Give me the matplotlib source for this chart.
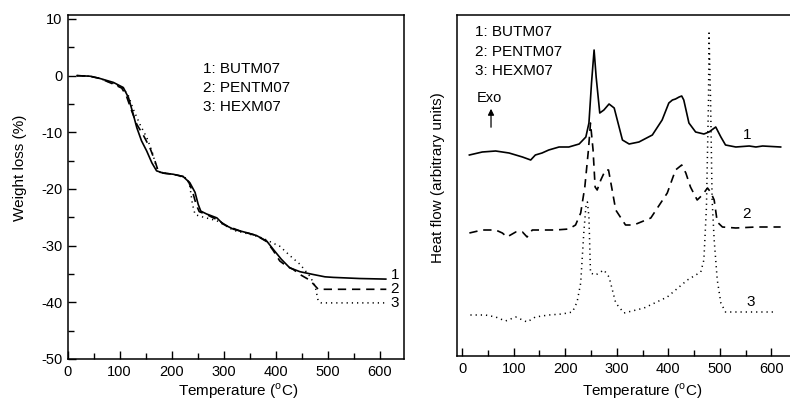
import matplotlib
matplotlib.use("Agg")
import matplotlib.pyplot as plt
from matplotlib.ticker import MultipleLocator

plt.rcParams['font.family'] = ['Liberation Sans', 'DejaVu Sans']
plt.rcParams['axes.unicode_minus'] = False

# ---------------- TGA data (weight loss, %) ----------------
tga_x1 = [18, 43, 62, 88, 107, 117, 126, 133, 142, 152, 162, 171, 184, 203, 222, 235, 245, 251, 256, 267,
          287, 299, 319, 344, 363, 383, 395, 411, 427, 447, 473, 495, 511, 562, 612]
tga_y1 = [0, -0.1, -0.5, -1.2, -2.1, -3.9, -6.8, -9.2, -11.5, -13.3, -15.4, -16.8, -17.2, -17.4, -17.8,
          -18.9, -20.6, -22.7, -23.9, -24.4, -25.1, -26.2, -27.1, -27.7, -28.2, -29.2, -30.6, -32.4, -33.9,
          -34.6, -35.1, -35.5, -35.6, -35.8, -35.9]
tga_x2 = [18, 43, 62, 88, 104, 113, 123, 133, 146, 158, 168, 174, 184, 203, 222, 232, 240, 247, 253, 267,
          287, 306, 331, 363, 383, 395, 408, 421, 434, 447, 466, 476, 482, 613]
tga_y2 = [0, -0.1, -0.5, -1.5, -2.2, -3.6, -6.2, -8.6, -10.6, -12.7, -15.1, -16.8, -17.2, -17.4, -17.8,
          -18.6, -20.4, -22.7, -24.0, -24.5, -25.4, -26.5, -27.4, -28.2, -29.3, -30.8, -32.7, -33.6, -34.2,
          -35.1, -36.1, -37.1, -37.7, -37.7]
tga_x3 = [18, 43, 62, 88, 107, 117, 126, 139, 152, 162, 171, 178, 203, 229, 235, 240, 245, 254, 287, 319,
          351, 376, 396, 408, 428, 447, 466, 476, 482, 488, 613]
tga_y3 = [0, -0.1, -0.5, -1.4, -2.2, -3.6, -5.9, -8.6, -10.9, -13.3, -16.2, -17.1, -17.4, -18.1, -19.5,
          -22.7, -24.5, -24.8, -25.6, -27.3, -28.0, -28.7, -29.6, -30.1, -31.8, -33.3, -35.4, -37.1, -39.8,
          -40.1, -40.1]

# ---------------- DTA data (heat flow, arbitrary units) ----------------
dta_x1 = [14, 39, 65, 91, 117, 133, 142, 155, 168, 188, 207, 227, 240, 246, 251, 256, 260, 267, 275, 285,
          295, 301, 311, 324, 343, 369, 388, 401, 408, 414, 421, 426, 430, 440, 453, 469, 479, 492, 502,
          511, 531, 557, 570, 583, 618]
dta_y1 = [201, 204, 205, 203, 199, 196, 201, 203, 206, 209, 209, 212, 219, 233, 273, 306, 279, 243, 246,
          252, 248, 236, 216, 212, 214, 221, 236, 253, 256, 257, 259, 260, 256, 233, 224, 222, 224, 229,
          219, 211, 209, 210, 209, 210, 209]
dta_x2 = [14, 39, 65, 78, 87, 104, 117, 126, 136, 155, 181, 207, 220, 230, 238, 245, 249, 254, 258, 262,
          269, 278, 284, 290, 298, 317, 333, 366, 398, 414, 426, 434, 443, 456, 466, 476, 482, 489, 495,
          505, 531, 570, 618]
dta_y2 = [123, 126, 126, 123, 119, 124, 124, 119, 126, 126, 126, 127, 131, 143, 169, 206, 233, 206, 169,
          166, 176, 186, 186, 169, 146, 131, 131, 138, 163, 186, 191, 183, 169, 156, 161, 168, 164, 156,
          134, 129, 128, 129, 129]
dta_x3 = [16, 45, 65, 84, 104, 126, 142, 168, 194, 214, 223, 230, 236, 240, 243, 246, 249, 259, 275, 285,
          298, 314, 353, 398, 437, 463, 469, 474, 478, 479, 482, 485, 489, 495, 502, 511, 550, 608]
dta_y3 = [41, 41, 39, 35, 39, 34, 39, 41, 42, 44, 54, 73, 123, 149, 154, 139, 83, 81, 86, 79, 53, 43, 48,
          59, 76, 84, 96, 149, 256, 323, 256, 156, 116, 76, 53, 44, 44, 44]

legend_names = ["1: BUTM07", "2: PENTM07", "3: HEXM07"]
curve_tags = ["1", "2", "3"]

W, H = 790, 404
fig = plt.figure(figsize=(W / 100, H / 100), dpi=100)

def fx(px):
    return px / W

def fy(py):
    return 1 - py / H

ax1 = fig.add_axes([fx(67.7), fy(359), fx(404) - fx(67.7), fy(15) - fy(359)])
ax2 = fig.add_axes([fx(457), fy(356), fx(792) - fx(457), fy(15) - fy(356)])

lw = 1.2
styles = [dict(color='black', lw=lw, ls='-'),
          dict(color='black', lw=lw, ls=(0, (5, 3.5))),
          dict(color='black', lw=1.1, ls=(0, (0.8, 2.6)))]

# Left: TGA
for xs, ys, st in zip([tga_x1, tga_x2, tga_x3], [tga_y1, tga_y2, tga_y3], styles):
    ax1.plot(xs, ys, **st)
ax1.set_xlim(0, 647)
ax1.set_ylim(-50, 10.7)
ax1.xaxis.set_major_locator(MultipleLocator(100))
ax1.xaxis.set_minor_locator(MultipleLocator(50))
ax1.yaxis.set_major_locator(MultipleLocator(10))
ax1.yaxis.set_minor_locator(MultipleLocator(5))
ax1.tick_params(which='both', direction='in', labelsize=10.5, width=1)
ax1.tick_params(which='major', length=6, pad=4)
ax1.tick_params(which='minor', length=4)
ax1.set_xticks(range(0, 601, 100))
ax1.set_yticks(range(-50, 11, 10))
for sp in ax1.spines.values():
    sp.set_linewidth(1.1)

for i, name in enumerate(legend_names):
    ax1.text(260, 1.2 - 3.35 * i, name, fontsize=11, ha='left', va='center')
for tag, yv in zip(curve_tags, [-35.1, -37.7, -40.1]):
    ax1.text(621, yv, tag, fontsize=11, ha='left', va='center', clip_on=False)

# Right: DTA
for xs, ys, st in zip([dta_x1, dta_x2, dta_x3], [dta_y1, dta_y2, dta_y3], styles):
    ax2.plot(xs, ys, **st)
ax2.set_xlim(-10, 640)
ax2.set_ylim(0, 341)
ax2.xaxis.set_major_locator(MultipleLocator(100))
ax2.xaxis.set_minor_locator(MultipleLocator(50))
ax2.set_xticks(range(0, 601, 100))
ax2.set_yticks([])
ax2.tick_params(which='both', direction='in', labelsize=10.5, width=1)
ax2.tick_params(which='major', length=6, pad=4)
ax2.tick_params(which='minor', length=4)
ax2.spines['right'].set_visible(False)
for sp in ax2.spines.values():
    sp.set_linewidth(1.1)

for i, name in enumerate(legend_names):
    ax2.text(25, 324 - 19.5 * i, name, fontsize=11, ha='left', va='center')
ax2.text(29, 258, "Exo", fontsize=10.5, ha='left', va='center')
ax2.annotate("", xy=(56, 250), xytext=(56, 226),
             arrowprops=dict(arrowstyle='-|>', color='black', lw=0.9, mutation_scale=9))
for tag, xv, yv in zip(curve_tags, [553, 551, 559], [221, 142, 54]):
    ax2.text(xv, yv, tag, fontsize=11, ha='center', va='center')

# Axis labels
fig.text(fx(20), fy(168), "Weight loss (%)", rotation=90, fontsize=11, ha='center', va='center')
fig.text(fx(438), fy(178), "Heat flow (arbitrary units)", rotation=90, fontsize=11, ha='center', va='center')
fig.text(fx(238), fy(401), r"Temperature ($^\mathregular{o}$C)", fontsize=11, ha='center', va='bottom')
fig.text(fx(642), fy(401), r"Temperature ($^\mathregular{o}$C)", fontsize=11, ha='center', va='bottom')

fig.savefig("out.png", dpi=100)
